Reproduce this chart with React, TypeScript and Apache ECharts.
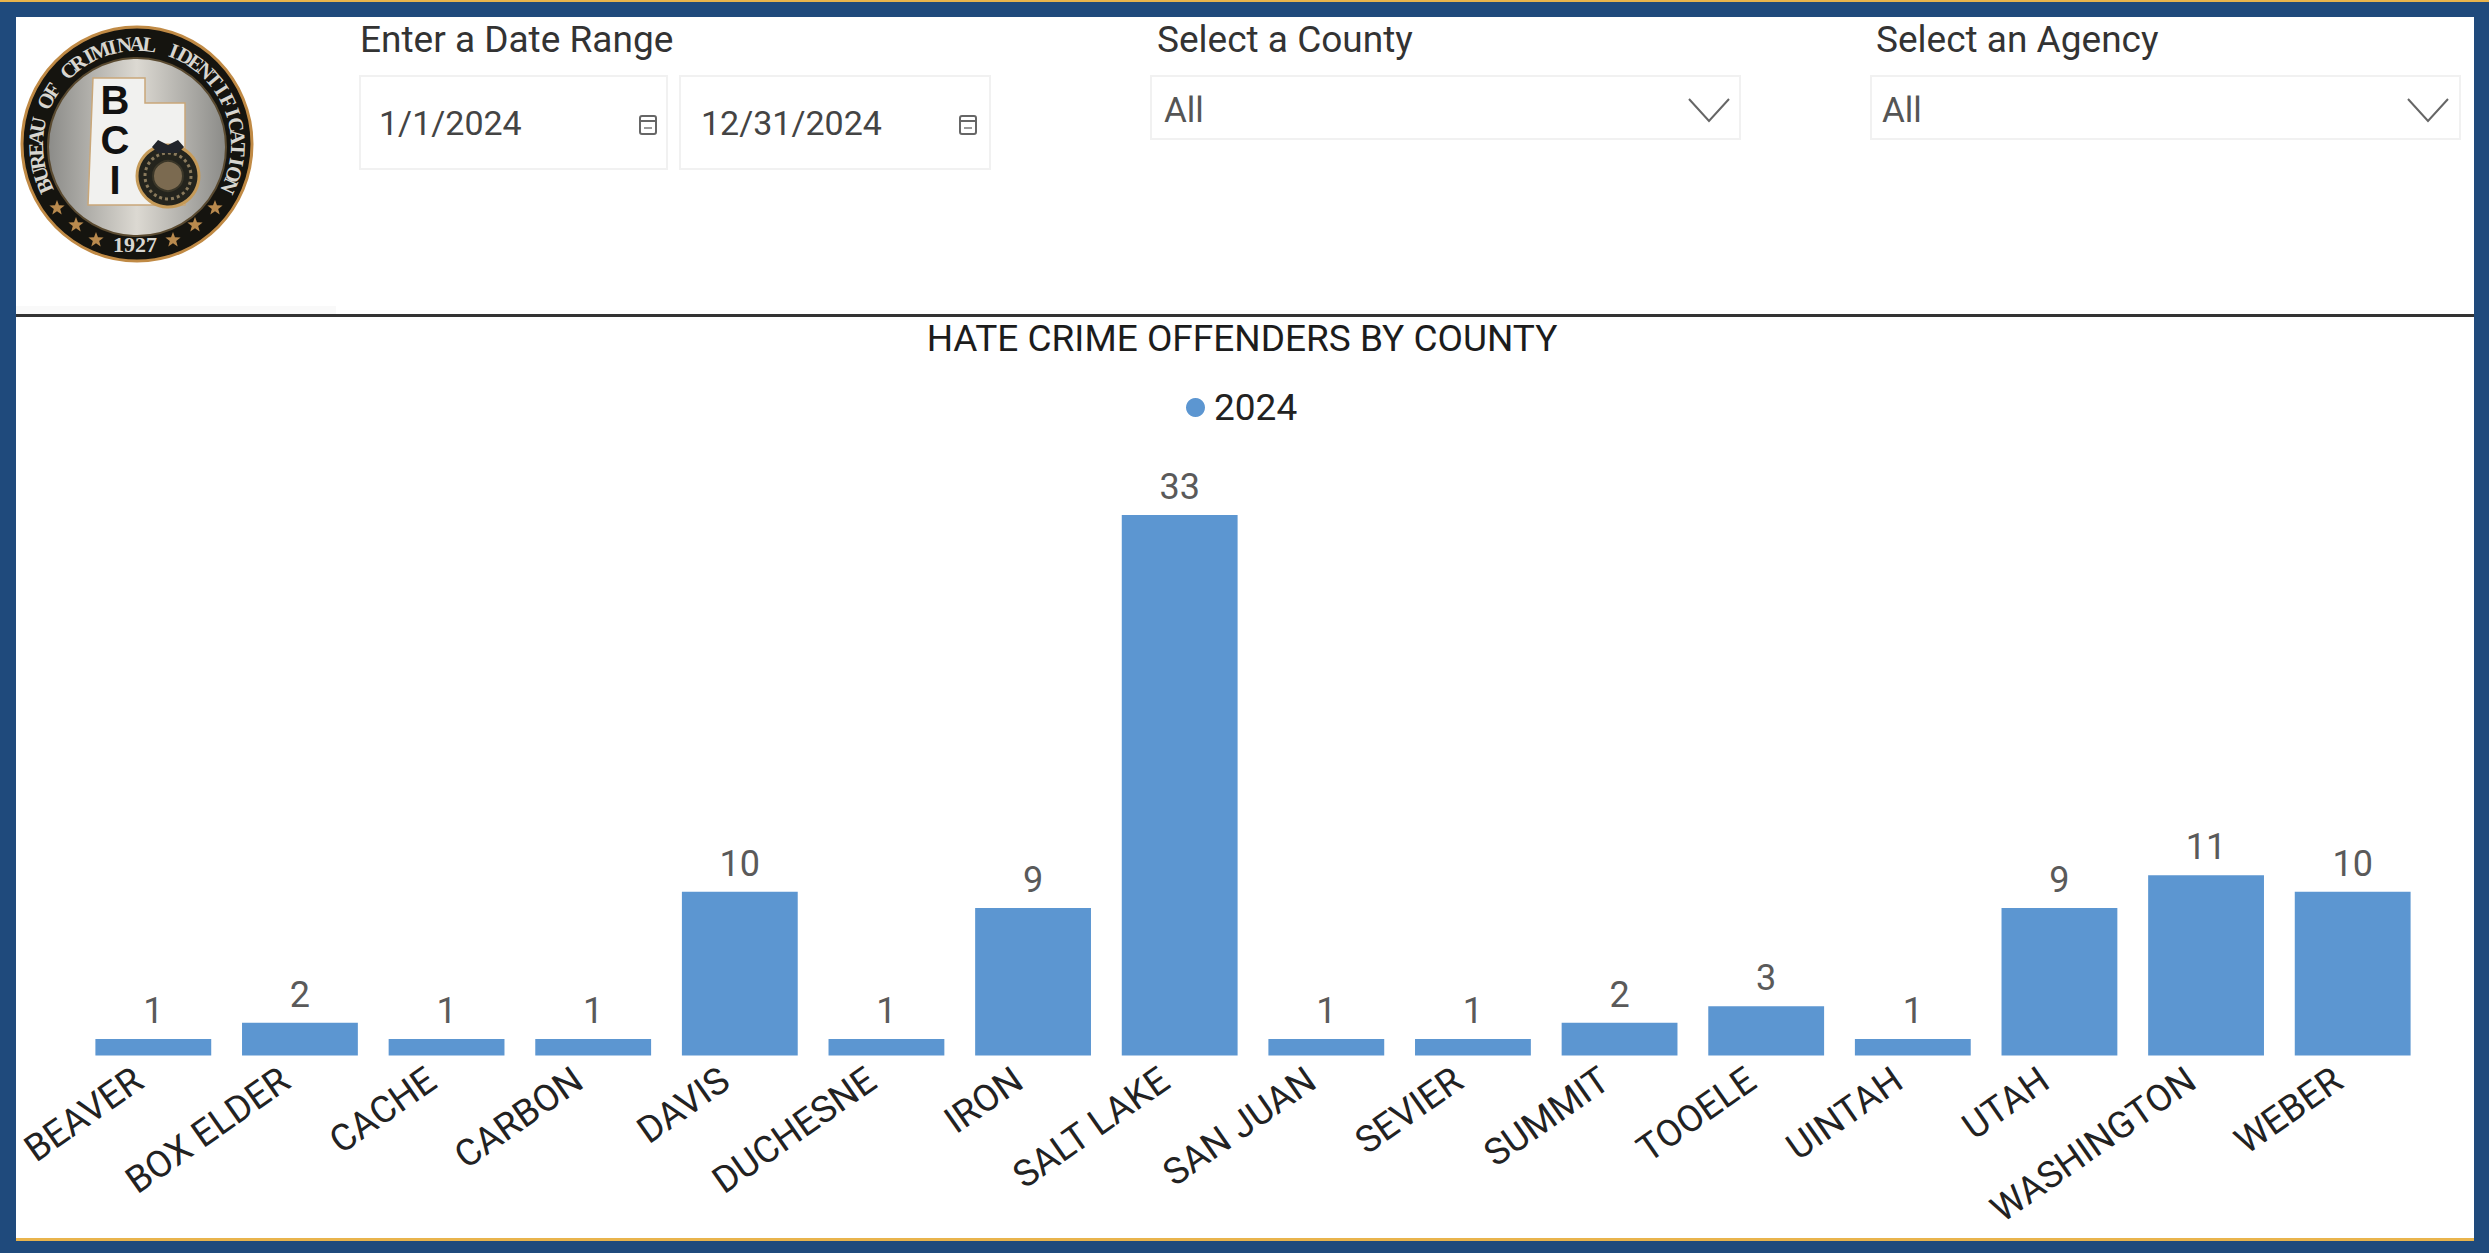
import React, { useEffect, useRef } from "react";
import * as echarts from "echarts";

const counties = ["BEAVER", "BOX ELDER", "CACHE", "CARBON", "DAVIS", "DUCHESNE", "IRON", "SALT LAKE", "SAN JUAN", "SEVIER", "SUMMIT", "TOOELE", "UINTAH", "UTAH", "WASHINGTON", "WEBER"];
const offenders = [1, 2, 1, 1, 10, 1, 9, 33, 1, 1, 2, 3, 1, 9, 11, 10];
const seriesName = "2024";
const chartTitle = "HATE CRIME OFFENDERS BY COUNTY";
const dateLabel = "Enter a Date Range";
const dateFrom = "1/1/2024";
const dateTo = "12/31/2024";
const countyLabel = "Select a County";
const agencyLabel = "Select an Agency";
const allLabel = "All";
const sealTop = "BUREAU OF CRIMINAL IDENTIFICATION";
const sealYear = "1927";

const FONT = "Roboto, sans-serif";
const NAVY = "#1f4a7c";
const BLUE = "#5c96d1";

const label = (text: string, x: number, y: number, fontSize: number, fill: string) => ({
  type: "text",
  z: 5,
  style: { text, x, y, fontSize, fontFamily: FONT, fill, verticalAlign: "middle", align: "left" },
});
const box = (x: number, y: number, w: number, h: number) => ({
  type: "rect",
  z: 1,
  shape: { x, y, width: w, height: h },
  style: { fill: "#ffffff", stroke: "#f1f1f1", lineWidth: 2 },
});
const chevron = (x: number) => ({
  type: "polyline",
  z: 5,
  shape: { points: [[x, 99], [x + 20, 121], [x + 40, 99]] },
  style: { fill: "none", stroke: "#666666", lineWidth: 2 },
});
const calendar = (x: number) => ({
  type: "group",
  children: [
    { type: "rect", z: 5, shape: { x, y: 116, width: 16, height: 18, r: 2 }, style: { fill: "#fff", stroke: "#666", lineWidth: 2 } },
    { type: "line", z: 5, shape: { x1: x, y1: 121, x2: x + 16, y2: 121 }, style: { stroke: "#666", lineWidth: 2 } },
    { type: "line", z: 5, shape: { x1: x + 4, y1: 128, x2: x + 12, y2: 128 }, style: { stroke: "#999", lineWidth: 2 } },
  ],
});
const star = (cx: number, cy: number, r: number) => {
  const points: number[][] = [];
  for (let i = 0; i < 10; i++) {
    const a = -Math.PI / 2 + (i * Math.PI) / 5;
    const rr = i % 2 ? r * 0.42 : r;
    points.push([cx + rr * Math.cos(a), cy + rr * Math.sin(a)]);
  }
  return { type: "polygon", z: 7, shape: { points }, style: { fill: "#b98a4e" } };
};

function logo() {
  const cx = 137, cy = 145;
  const ringLetters = sealTop.split("").map((ch, i, arr) => {
    const deg = -114 + (228 * i) / (arr.length - 1);
    const t = (deg * Math.PI) / 180;
    return {
      type: "text",
      z: 7,
      x: cx + 101 * Math.sin(t),
      y: cy - 101 * Math.cos(t),
      rotation: -t,
      style: { text: ch, x: 0, y: 0, fontSize: 21, fontWeight: "bold", fontFamily: "'Liberation Serif', serif", fill: "#d8d6d0", align: "center", verticalAlign: "middle" },
    };
  });
  const bci = ["B", "C", "I"].map((ch, i) => ({
    type: "text",
    z: 7,
    style: { text: ch, x: 115, y: 100 + i * 40, fontSize: 40, fontWeight: "bold", fontFamily: "'Liberation Sans', sans-serif", fill: "#111", align: "center", verticalAlign: "middle" },
  }));
  return [
    { type: "ellipse", z: 6, shape: { cx, cy: 144, rx: 115, ry: 117 }, style: { fill: "#15140f", stroke: "#c08a45", lineWidth: 3 } },
    {
      type: "circle",
      z: 6,
      shape: { cx, cy: 147, r: 89 },
      style: {
        stroke: "#5a4a30",
        lineWidth: 2,
        fill: {
          type: "linear", x: 0, y: 0, x2: 1, y2: 0,
          colorStops: [{ offset: 0, color: "#8b8b88" }, { offset: 0.5, color: "#dcd9d2" }, { offset: 1, color: "#8b8b88" }],
        },
      },
    },
    {
      type: "polygon",
      z: 7,
      shape: { points: [[93, 78], [145, 78], [145, 103], [185, 103], [185, 205], [88, 205]] },
      style: { fill: "#f1f1ef", stroke: "#c9a779", lineWidth: 1.5 },
    },
    ...bci,
    { type: "circle", z: 8, shape: { cx: 168, cy: 176, r: 31 }, style: { fill: "#24241d", stroke: "#c59a58", lineWidth: 3 } },
    { type: "circle", z: 8, shape: { cx: 168, cy: 176, r: 23 }, style: { fill: "none", stroke: "#8a7a5c", lineWidth: 3, lineDash: [3, 3] } },
    { type: "circle", z: 8, shape: { cx: 168, cy: 176, r: 15 }, style: { fill: "#7b6a50", stroke: "#3a3628", lineWidth: 2 } },
    { type: "polygon", z: 8, shape: { points: [[152, 147], [158, 140], [168, 145], [178, 140], [184, 147], [178, 153], [158, 153]] }, style: { fill: "#22252b" } },
    ...ringLetters,
    star(57, 208, 8), star(76, 225, 8), star(96, 240, 8), star(173, 240, 8), star(195, 225, 8), star(215, 208, 8),
    { type: "text", z: 7, style: { text: sealYear, x: 135, y: 244, fontSize: 22, fontWeight: "bold", fontFamily: "'Liberation Serif', serif", fill: "#d8d6d0", align: "center", verticalAlign: "middle" } },
  ];
}

export default function App() {
  const ref = useRef<HTMLDivElement>(null);
  useEffect(() => {
    const chart = echarts.init(ref.current!, undefined, { renderer: "svg" });
    chart.setOption({
      animation: false,
      backgroundColor: NAVY,
      title: {
        text: chartTitle,
        left: 1237,
        textAlign: "center",
        top: 315,
        textStyle: { fontFamily: FONT, fontSize: 37, fontWeight: "normal", color: "#1c1c1c" },
      },
      legend: {
        data: [seriesName],
        left: 1181,
        top: 384,
        icon: "circle",
        itemWidth: 19,
        itemHeight: 19,
        itemGap: 10,
        textStyle: { fontFamily: FONT, fontSize: 37, color: "#222222", padding: [0, 0, 0, 4] },
      },
      grid: { left: 80, right: 63, top: 400.3, bottom: 197.5, containLabel: false },
      xAxis: {
        type: "category",
        data: counties,
        axisLine: { show: false },
        axisTick: { show: false },
        axisLabel: { interval: 0, rotate: 35, margin: 10, padding: [0, 18, 0, 0], fontFamily: FONT, fontSize: 37, color: "#222222" },
      },
      yAxis: { type: "value", min: 0, max: 40, show: false, splitLine: { show: false } },
      series: [
        {
          name: seriesName,
          type: "bar",
          data: offenders,
          barCategoryGap: "21%",
          itemStyle: { color: BLUE },
          label: { show: true, position: "top", distance: 10, fontFamily: FONT, fontSize: 36, color: "#5a5a5a" },
        },
      ],
      graphic: [
        { type: "rect", z: 0, shape: { x: 0, y: 0, width: 2489, height: 2 }, style: { fill: "#e9b44c" } },
        { type: "rect", z: 0, shape: { x: 16, y: 17, width: 2458, height: 1221 }, style: { fill: "#ffffff" } },
        { type: "rect", z: 0, shape: { x: 16, y: 1238, width: 2458, height: 3 }, style: { fill: "#e9b44c" } },
        { type: "rect", z: 0, shape: { x: 16, y: 306, width: 320, height: 8 }, style: { fill: "#f9f9f9" } },
        { type: "rect", z: 1, shape: { x: 16, y: 314, width: 2458, height: 3 }, style: { fill: "#333333" } },
        label(dateLabel, 360, 39, 37, "#333333"),
        label(countyLabel, 1157, 39, 37, "#333333"),
        label(agencyLabel, 1876, 39, 37, "#333333"),
        box(360, 76, 307, 93),
        box(680, 76, 310, 93),
        box(1151, 76, 589, 63),
        box(1871, 76, 589, 63),
        label(dateFrom, 379, 123, 34, "#444444"),
        label(dateTo, 701, 123, 34, "#444444"),
        label(allLabel, 1164, 110, 35, "#555555"),
        label(allLabel, 1882, 110, 35, "#555555"),
        calendar(640),
        calendar(960),
        chevron(1689),
        chevron(2408),
        ...logo(),
      ],
    });
    return () => chart.dispose();
  }, []);
  return <div ref={ref} style={{ position: "absolute", left: 0, top: 0, width: 2489, height: 1253 }} />;
}
